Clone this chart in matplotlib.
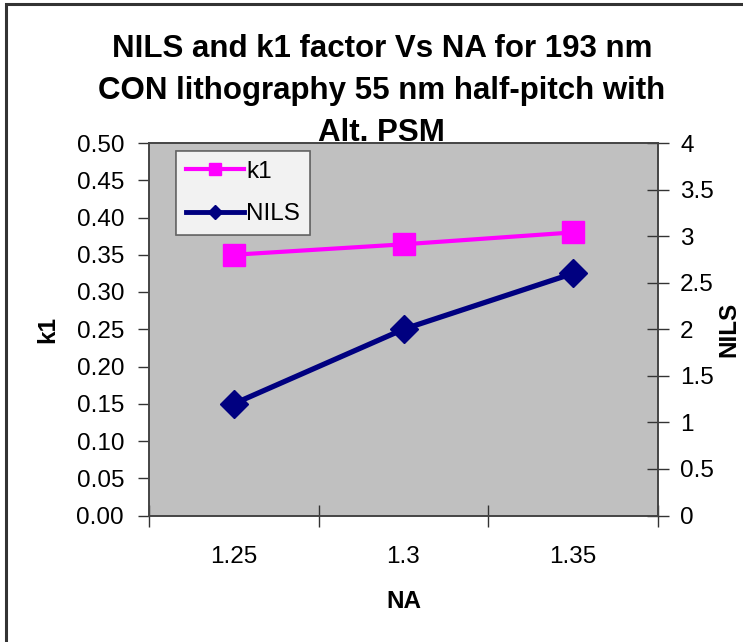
"""NILS and k1 factor versus NA, 193 nm immersion lithography."""
import matplotlib.pyplot as plt
from matplotlib.lines import Line2D
from matplotlib.patches import Rectangle

plt.rcParams['font.family'] = ['Liberation Sans', 'DejaVu Sans']

na_labels = ['1.25', '1.3', '1.35']
k1 = [0.350, 0.364, 0.380]
nils = [1.2, 2.0, 2.6]

k1_ticks = [0.00, 0.05, 0.10, 0.15, 0.20, 0.25, 0.30, 0.35, 0.40, 0.45, 0.50]
nils_ticks = [0, 0.5, 1, 1.5, 2, 2.5, 3, 3.5, 4]

title_lines = ['NILS and k1 factor Vs NA for 193 nm',
               'CON lithography 55 nm half-pitch with',
               'Alt. PSM']

PINK = '#FF00FF'
NAVY = '#000080'
FS = 17.5

fig = plt.figure(figsize=(7.43, 6.42), dpi=100)
fig.patch.set_facecolor('white')

# outer chart frame (clipped at right and bottom)
fig.patches.append(Rectangle((6 / 743, -0.1), 1.2, 1 - 4 / 642 + 0.1,
                             transform=fig.transFigure, fill=False,
                             edgecolor='#333333', linewidth=2.2))

ax = fig.add_axes([149 / 743, 126.5 / 642, 509 / 743, 372.5 / 642])
ax.set_facecolor('#C0C0C0')
ax2 = ax.twinx()

x = range(len(na_labels))
ax.plot(x, k1, color=PINK, lw=3, marker='s', ms=16.5, mec=PINK, mfc=PINK,
        zorder=3)
ax2.plot(x, nils, color=NAVY, lw=3.8, marker='D', ms=14.5, mec=NAVY, mfc=NAVY,
         zorder=3)

ax.set_xlim(-0.5, len(na_labels) - 0.5)
ax.set_ylim(0, 0.5)
ax2.set_ylim(0, 4)

# category axis: ticks at boundaries, labels in between
ax.set_xticks([i - 0.5 for i in range(len(na_labels) + 1)])
ax.set_xticklabels([])
ax.set_xticks(list(x), minor=True)
ax.set_xticklabels(na_labels, minor=True, fontsize=FS)
ax.tick_params(axis='x', which='major', direction='inout', length=16,
               width=1, color='#333333')
ax.tick_params(axis='x', which='minor', length=0, pad=22)

ax.set_yticks(k1_ticks)
ax.set_yticklabels([f'{v:.2f}' for v in k1_ticks], fontsize=FS)
ax.tick_params(axis='y', direction='out', length=8, width=1,
               color='#333333', pad=10)

ax2.set_yticks(nils_ticks)
ax2.set_yticklabels([f'{v:g}' for v in nils_ticks], fontsize=FS)
ax2.tick_params(axis='y', direction='inout', length=16, width=1,
                color='#333333', pad=8)

for a in (ax, ax2):
    for s in a.spines.values():
        s.set_color('#444444')
        s.set_linewidth(1.2)

ax.set_xlabel('NA', fontsize=FS, fontweight='bold', labelpad=16)
ax.set_ylabel('k1', fontsize=FS, fontweight='bold', labelpad=12)
ax2.set_ylabel('NILS', fontsize=FS, fontweight='bold', labelpad=2)

# title, one text per line so each line sits on its own baseline
for i, line in enumerate(title_lines):
    fig.text(0.514, 1 - (57 + 42 * i) / 642, line, ha='center',
             va='baseline', fontsize=22.5, fontweight='bold')

handles = [
    Line2D([], [], color=PINK, lw=3, marker='s', ms=9, mec=PINK, mfc=PINK),
    Line2D([], [], color=NAVY, lw=3.5, marker='D', ms=7, mec=NAVY, mfc=NAVY),
]
leg = ax2.legend(handles, ['k1', 'NILS'], loc='upper left',
                 bbox_to_anchor=(27 / 509, 1 - 8 / 372.5), fontsize=FS,
                 frameon=True, fancybox=False, handlelength=2.4,
                 handletextpad=0.1, borderpad=0.4, labelspacing=0.85,
                 borderaxespad=0)
leg.get_frame().set_edgecolor('#444444')
leg.get_frame().set_linewidth(1.2)
leg.get_frame().set_facecolor('white')
leg.set_zorder(5)

fig.savefig('out.png', dpi=100)
